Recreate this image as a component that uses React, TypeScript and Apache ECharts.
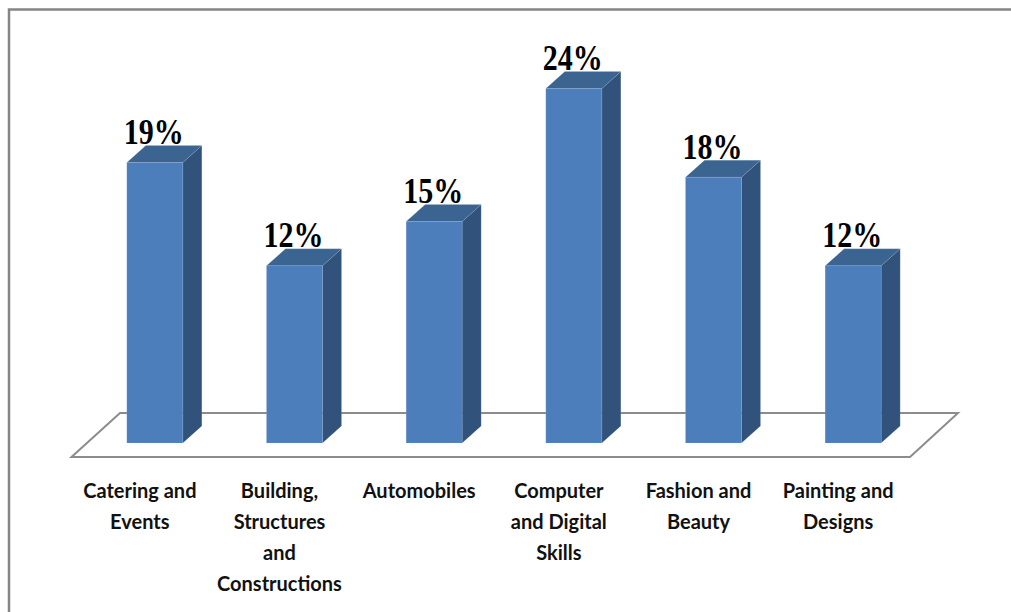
import React, { useEffect, useRef } from "react";
import * as echarts from "echarts";

const categories = [
  "Catering and\nEvents",
  "Building,\nStructures\nand\nConstructions",
  "Automobiles",
  "Computer\nand Digital\nSkills",
  "Fashion and\nBeauty",
  "Painting and\nDesigns",
];
const shares = [19, 12, 15, 24, 18, 12];

const FRONT = "#4b7ebb";
const SIDE = "#31527a";
const TOP = "#3c6491";
const FLOOR_LINE = "#8c8c8c";
const FRAME_LINE = "#858585";

const WIDTH = 1011;
const HEIGHT = 612;

// Oblique projection of the columns: depth offset and the shift of the
// column row away from the front edge of the floor.
const DEPTH_X = 19;
const DEPTH_Y = 17;
const SHIFT_X = 15;
const BAR_WIDTH = 56;

function renderColumn(params: any, api: any) {
  const index = api.value(0);
  const share = api.value(1);
  const [cx, y0] = api.coord([index, 0]);
  const [, y1] = api.coord([index, share]);
  const x0 = cx + SHIFT_X - BAR_WIDTH / 2;
  const x1 = x0 + BAR_WIDTH;
  const edge = { stroke: "rgba(190,210,235,0.22)", lineWidth: 0.6 };
  return {
    type: "group",
    children: [
      {
        type: "polygon",
        shape: { points: [[x1, y1], [x1 + DEPTH_X, y1 - DEPTH_Y], [x1 + DEPTH_X, y0 - DEPTH_Y], [x1, y0]] },
        style: { fill: SIDE, ...edge },
      },
      {
        type: "polygon",
        shape: { points: [[x0, y1], [x0 + DEPTH_X, y1 - DEPTH_Y], [x1 + DEPTH_X, y1 - DEPTH_Y], [x1, y1]] },
        style: { fill: TOP, ...edge },
      },
      {
        type: "rect",
        shape: { x: x0, y: y1, width: BAR_WIDTH, height: y0 - y1 },
        style: { fill: FRONT, ...edge },
      },
      {
        // Value caption, slightly tall like the rest of the figure
        type: "text",
        x: cx + SHIFT_X - 1,
        y: y1 - DEPTH_Y + 4,
        scaleY: 1.2,
        style: {
          text: `${share}%`,
          fill: "#000",
          font: 'bold 30px "Liberation Serif"',
          align: "center",
          verticalAlign: "bottom",
        },
      },
    ],
  };
}

export default function App() {
  const ref = useRef<HTMLDivElement>(null);

  useEffect(() => {
    document.body.style.margin = "0";
    const chart = echarts.init(ref.current!, null, { renderer: "svg" });
    chart.setOption({
      animation: false,
      backgroundColor: "#ffffff",
      grid: { left: 70, top: 0, width: 838, bottom: HEIGHT - 443 },
      xAxis: {
        type: "category",
        data: categories,
        axisLine: { show: false },
        axisTick: { show: false },
        axisLabel: {
          interval: 0,
          margin: 31,
          color: "#111",
          fontFamily: "Lato",
          fontWeight: "bold",
          fontSize: 20,
          lineHeight: 31,
          align: "center",
        },
      },
      yAxis: { type: "value", min: 0, max: 30, show: false },
      graphic: [
        {
          type: "polyline",
          z: 0,
          shape: { points: [[9, 612], [9, 9.5], [1011, 9.5]] },
          style: { stroke: FRAME_LINE, lineWidth: 2.5, fill: "none" },
        },
        {
          type: "polygon",
          z: 0,
          shape: { points: [[71.5, 457], [120, 413], [958, 413], [910, 457]] },
          style: { stroke: FLOOR_LINE, lineWidth: 2, fill: "none" },
        },
      ],
      series: [
        {
          type: "custom",
          renderItem: renderColumn,
          encode: { x: 0, y: 1 },
          data: shares.map((share, i) => [i, share]),
          z: 5,
        },
      ],
    });
    return () => chart.dispose();
  }, []);

  return <div ref={ref} style={{ position: "absolute", left: 0, top: 0, width: WIDTH, height: HEIGHT }} />;
}
